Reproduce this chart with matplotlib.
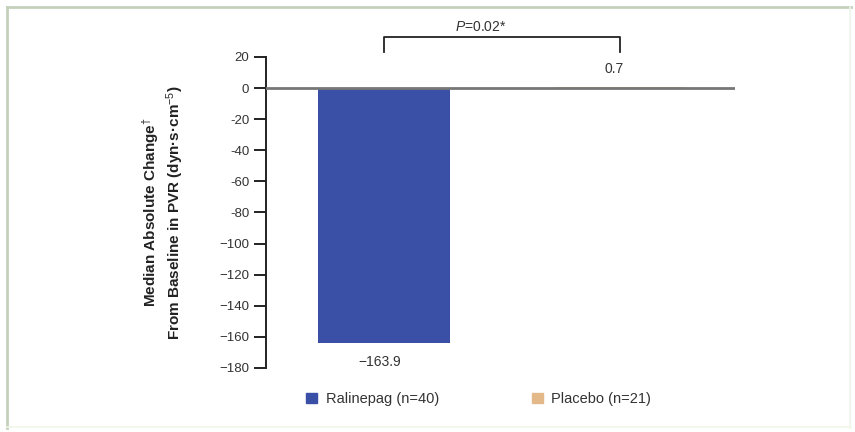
import matplotlib.pyplot as plt
from matplotlib.patches import Rectangle
from matplotlib.lines import Line2D

groups = ["Ralinepag (n=40)", "Placebo (n=21)"]
values = [-163.9, 0.7]
value_labels = ["\u2212163.9", "0.7"]
colors = ["#3a4fa6", "#e3b98a"]
yticks = list(range(20, -181, -20))
p_text = "$\\it{P}$=0.02*"

plt.rcParams["font.family"] = ["Liberation Sans", "DejaVu Sans"]
plt.rcParams["mathtext.fontset"] = "custom"
plt.rcParams["mathtext.rm"] = "Liberation Sans"
plt.rcParams["mathtext.it"] = "Liberation Sans:italic"
plt.rcParams["mathtext.bf"] = "Liberation Sans:bold"

fig = plt.figure(figsize=(8.55, 4.32), dpi=100)

# frame around the whole picture
fig.add_artist(Line2D([0.008, 0.995], [0.984, 0.984], color="#c5d1bb", lw=2.0))
fig.add_artist(Line2D([0.008, 0.008], [0.01, 0.984], color="#c5d1bb", lw=2.0))
fig.add_artist(Line2D([0.994, 0.994], [0.01, 0.984], color="#eef3ea", lw=1.2))
fig.add_artist(Line2D([0.008, 0.995], [0.012, 0.012], color="#f0f7e8", lw=1.2))

ax = fig.add_axes([266 / 855, 1 - 368 / 432, 469 / 855, (368 - 57) / 432])
x = [0, 1]
ax.bar(x, values, width=0.56, color=colors, zorder=2)
ax.axhline(0, color="#777777", lw=2.0, zorder=3)

ax.set_xlim(-0.5, -0.5 + 469 / 236)
ax.set_ylim(-180, 20)
ax.set_yticks(yticks)
ax.set_yticklabels([str(t).replace("-", "\u2212") if t < -80 else str(t) for t in yticks],
                   fontsize=9.5, color="#333333")
ax.set_xticks([])
for s in ["top", "right", "bottom"]:
    ax.spines[s].set_visible(False)
ax.spines["left"].set_linewidth(1.4)
ax.spines["left"].set_color("#222222")
ax.tick_params(axis="y", length=9, width=1.4, color="#222222", pad=3)

ax.set_ylabel("Median Absolute Change$^{\\dagger}$\nFrom Baseline in PVR (dyn\u00b7s\u00b7cm$^{-5}$)",
              fontsize=11, fontweight="bold", color="#222222", labelpad=24, linespacing=1.2)

# value labels
ax.annotate(value_labels[0], (x[0], values[0]), xytext=(-3, -9), textcoords="offset points",
            ha="center", va="top", fontsize=10, color="#333333", annotation_clip=False)
ax.annotate(value_labels[1], (x[1], values[1]), xytext=(-4, 8), textcoords="offset points",
            ha="center", va="bottom", fontsize=10, color="#333333")

# significance bracket
ax.plot([x[0], x[0], x[1], x[1]], [23, 33, 33, 23], color="#222222", lw=1.3, clip_on=False)
ax.text(0.41, 35, p_text, ha="center", va="bottom", fontsize=10, color="#333333")

# legend
handles = [Rectangle((0, 0), 1, 1, color=c) for c in colors]
fig.legend(handles, groups, loc="center left", bbox_to_anchor=(293 / 855, 1 - 399 / 432),
           ncol=2, frameon=False, fontsize=10.5, handlelength=0.75, handleheight=0.75,
           handletextpad=0.6, columnspacing=6.35, labelcolor="#333333")

fig.savefig("out.png", dpi=100, facecolor="white")
